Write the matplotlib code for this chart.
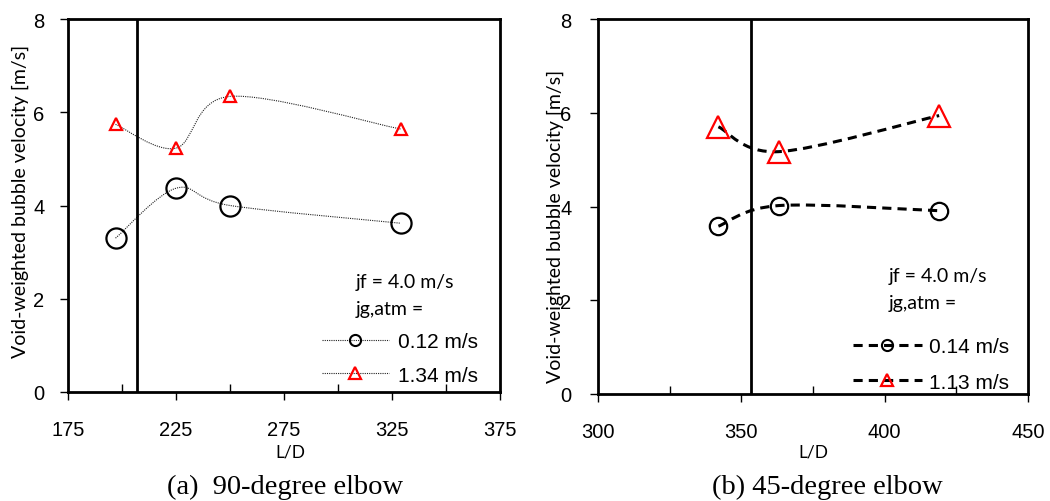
import matplotlib
matplotlib.use("Agg")
import matplotlib.pyplot as plt
from matplotlib.path import Path
from matplotlib.patches import PathPatch
from matplotlib.lines import Line2D

# === Data ===
# (a) 90-degree elbow
ld_a_low = [197, 225, 250, 329]
v_a_low = [3.30, 4.37, 4.00, 3.62]
ld_a_high = [197, 225, 250, 329]
v_a_high = [5.74, 5.23, 6.34, 5.64]
elbow_a = 207
xticks_a = [175, 225, 275, 325, 375]

# (b) 45-degree elbow
ld_b_low = [342, 363, 419]
v_b_low = [3.58, 4.02, 3.91]
ld_b_high = [342, 363, 419]
v_b_high = [5.70, 5.17, 5.94]
elbow_b = 353.5
xticks_b = [300, 350, 400, 450]

yticks = [0, 2, 4, 6, 8]
labels_a = ["0.12 m/s", "1.34 m/s"]
labels_b = ["0.14 m/s", "1.13 m/s"]

SANS = ["Liberation Sans", "DejaVu Sans"]
HUMAN = ["Lato", "DejaVu Sans"]
SERIF = ["Liberation Serif", "DejaVu Serif"]


def smooth_path(x, y):
    # Excel-like smoothed line: Catmull-Rom converted to cubic Bezier
    pts = list(zip(x, y))
    n = len(pts)
    verts = [pts[0]]
    codes = [Path.MOVETO]
    for i in range(n - 1):
        p0 = pts[max(i - 1, 0)]
        p1 = pts[i]
        p2 = pts[i + 1]
        p3 = pts[min(i + 2, n - 1)]
        c1 = (p1[0] + (p2[0] - p0[0]) / 6, p1[1] + (p2[1] - p0[1]) / 6)
        c2 = (p2[0] - (p3[0] - p1[0]) / 6, p2[1] - (p3[1] - p1[1]) / 6)
        verts += [c1, c2, p2]
        codes += [Path.CURVE4] * 3
    return Path(verts, codes)


def style_axes(ax, xticks, ypad):
    ax.set_xlim(xticks[0], xticks[-1])
    ax.set_ylim(yticks[0], yticks[-1])
    ax.set_xticks(xticks)
    ax.set_xticks([(a + b) / 2 for a, b in zip(xticks[:-1], xticks[1:])], minor=True)
    ax.set_yticks(yticks)
    for s in ax.spines.values():
        s.set_linewidth(2)
    ax.tick_params(axis="x", which="major", direction="out", length=6, width=1,
                   pad=14, labelsize=14.5)
    ax.tick_params(axis="x", which="minor", direction="in", length=6, width=1)
    ax.tick_params(axis="y", which="major", direction="out", length=6, width=1,
                   pad=ypad, labelsize=14.5)
    for lab in ax.get_xticklabels() + ax.get_yticklabels():
        lab.set_family(SANS)


fig = plt.figure(figsize=(10.5, 5.02), dpi=100)

# === (a) 90-degree elbow ===
ax1 = fig.add_axes([68 / 1050, 109 / 502, 432 / 1050, 373 / 502])
line_a = dict(color="#222222", lw=0.8, ls=(0, (1, 1)))
ax1.add_patch(PathPatch(smooth_path(ld_a_low, v_a_low), fill=False, **line_a))
ax1.add_patch(PathPatch(smooth_path(ld_a_high, v_a_high), fill=False, **line_a))
ax1.plot(ld_a_low, v_a_low, ls="none", marker="o", ms=14.5, mfc="none",
         mec="black", mew=1.6)
ax1.plot(ld_a_high, v_a_high, ls="none", marker="^", ms=8, mfc="none",
         mec="red", mew=1.6)
ax1.axvline(elbow_a, color="black", lw=2)
style_axes(ax1, xticks_a, 11)

handles_a = [
    Line2D([], [], marker="o", ms=8, mfc="none", mec="black", mew=1.5, **line_a),
    Line2D([], [], marker="^", ms=8, mfc="none", mec="red", mew=1.6, **line_a),
]
ax1.legend(handles_a, labels_a, loc="lower left", bbox_to_anchor=(0.588, 0.02),
           frameon=False, borderpad=0, borderaxespad=0, handlelength=3.2,
           handletextpad=0.45, labelspacing=0.7,
           prop={"family": SANS, "size": 15})
ax1.text(0.667, 0.295, "jf = 4.0 m/s", transform=ax1.transAxes, ha="left",
         va="center", family=HUMAN, size=14)
ax1.text(0.667, 0.225, "jg,atm =", transform=ax1.transAxes, ha="left",
         va="center", family=HUMAN, size=14)

# === (b) 45-degree elbow ===
ax2 = fig.add_axes([598 / 1050, 107 / 502, 430 / 1050, 375 / 502])
line_b = dict(color="black", lw=2.2, ls=(0, (3, 2)))
ax2.add_patch(PathPatch(smooth_path(ld_b_low, v_b_low), fill=False, **line_b))
ax2.add_patch(PathPatch(smooth_path(ld_b_high, v_b_high), fill=False, **line_b))
ax2.plot(ld_b_low, v_b_low, ls="none", marker="o", ms=12.5, mfc="none",
         mec="black", mew=1.6)
ax2.plot(ld_b_high, v_b_high, ls="none", marker="^", ms=16, mfc="none",
         mec="red", mew=1.6)
ax2.axvline(elbow_b, color="black", lw=2)
style_axes(ax2, xticks_b, 13)

handles_b = [
    Line2D([], [], marker="o", ms=8, mfc="none", mec="black", mew=1.5, **line_b),
    Line2D([], [], marker="^", ms=8, mfc="none", mec="red", mew=1.6, **line_b),
]
ax2.legend(handles_b, labels_b, loc="lower left", bbox_to_anchor=(0.593, 0.006),
           frameon=False, borderpad=0, borderaxespad=0, handlelength=3.3,
           handletextpad=0.35, labelspacing=0.8,
           prop={"family": SANS, "size": 15})
ax2.text(0.675, 0.315, "jf = 4.0 m/s", transform=ax2.transAxes, ha="left",
         va="center", family=HUMAN, size=14)
ax2.text(0.675, 0.245, "jg,atm =", transform=ax2.transAxes, ha="left",
         va="center", family=HUMAN, size=14)

# === Axis titles and captions ===
ylab = "Void-weighted bubble velocity [m/s]"
fig.text(20 / 1050, 1 - 201 / 502, ylab, rotation=90, ha="center", va="center",
         family=HUMAN, size=14)
fig.text(555 / 1050, 1 - 226 / 502, ylab, rotation=90, ha="center", va="center",
         family=HUMAN, size=14)
fig.text(290 / 1050, 1 - 453 / 502, "L/D", ha="center", va="center",
         family=HUMAN, size=12.5)
fig.text(813 / 1050, 1 - 453 / 502, "L/D", ha="center", va="center",
         family=HUMAN, size=12.5)
fig.text(285 / 1050, 1 - 487 / 502, "(a)  90-degree elbow", ha="center",
         va="center", family=SERIF, size=20.5)
fig.text(827 / 1050, 1 - 487 / 502, "(b) 45-degree elbow", ha="center",
         va="center", family=SERIF, size=20.5)

fig.savefig("out.png", dpi=100)
